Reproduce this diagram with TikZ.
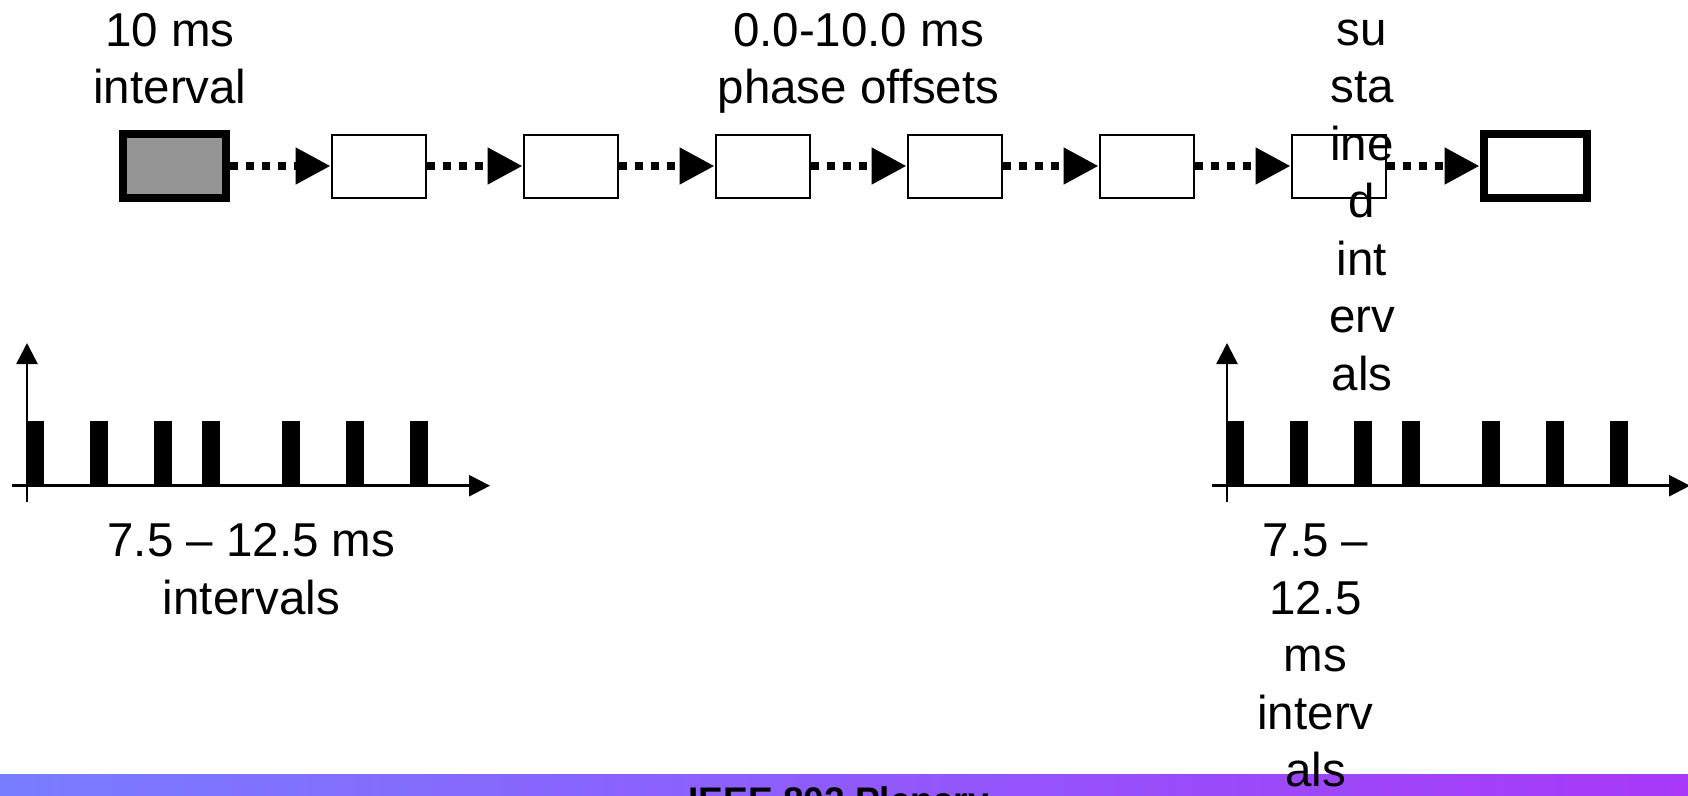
\documentclass[tikz,border=0pt]{standalone}
\usepackage{fontspec}
\setmainfont{Liberation Sans}
\usetikzlibrary{arrows.meta}
\definecolor{stripL}{HTML}{787DFF}
\definecolor{stripR}{HTML}{A838F8}
\definecolor{boxgrey}{HTML}{959595}
\begin{document}
\begin{tikzpicture}[x=1pt,y=-1pt,
  thinbox/.style={draw, line width=2pt, fill=white, minimum width=94pt, minimum height=63pt, inner sep=0pt},
  thickbox/.style={draw, line width=8pt, minimum width=103pt, minimum height=64pt, inner sep=0pt},
  link/.style={line width=8pt, dash pattern=on 8pt off 8pt, -{Triangle[length=35pt,width=35pt]}},
  axisline/.style={line width=2.5pt, -{Triangle[length=21pt,width=21pt]}},
  lbl/.style={font=\fontsize{47.5}{57.5}\selectfont, align=center, inner sep=0pt, anchor=base},
]
\useasboundingbox (0,0) rectangle (1688,795);
\clip (0,0) rectangle (1688,795);
% footer strip
\shade[left color=stripL, right color=stripR] (0,774) rectangle (1688,800);
\node[font=\fontsize{37}{44}\selectfont\bfseries, anchor=base, inner sep=0pt] (footer) at (838.6,813) {IEEE 802 Plenary};
% charts
\foreach \dx in {0,1200} {
  \draw[axisline] (27+\dx,502) -- (27+\dx,343);
  \draw[axisline] (11.7+\dx,485.7) -- (490+\dx,485.7);
  \foreach \a in {26.7,90,154,202.3,282.3,346,410}
    \fill (\a+\dx,420.7) rectangle (\a+17.7+\dx,485.7);
}
% boxes
\node[thickbox, fill=boxgrey] (b1) at (174.5,166) {};
\foreach \i in {2,...,7}
  \node[thinbox] (b\i) at ({378.5+192*(\i-2)},166) {};
\node[thickbox, fill=white] (b8) at (1535,166) {};
\foreach \i/\j in {1/2,2/3,3/4,4/5,5/6,6/7,7/8}
  \draw[link] (b\i.east) -- (b\j.west);
% labels (anchor=base is the last line's baseline)
\node[lbl] (t1) at (170,103.5) {10 ms\\interval};
\node[lbl] (t2) at (858.5,103.5) {0.0-10.0 ms\\phase offsets};
\node[lbl] (t3) at (1362,390) {su\\sta\\ine\\d\\int\\erv\\als};
\node[lbl] (t4) at (251.4,614) {7.5 – 12.5 ms\\intervals};
\node[lbl] (t5) at (1315.5,786.5) {7.5 –\\12.5\\ms\\interv\\als};
\end{tikzpicture}
\end{document}
